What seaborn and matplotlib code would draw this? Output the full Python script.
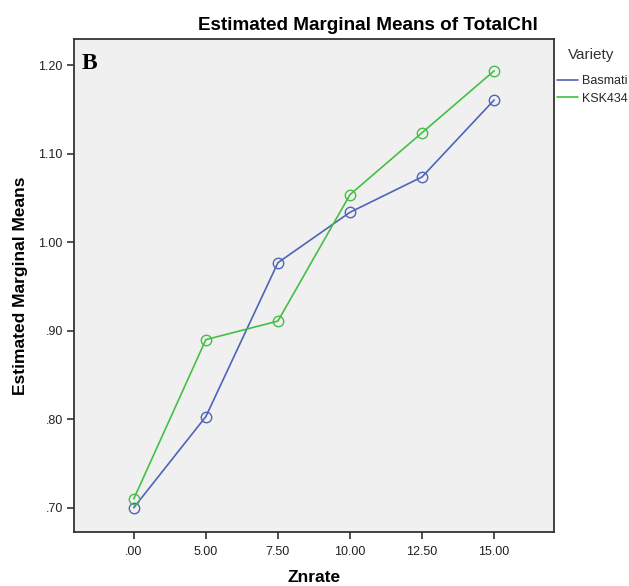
#!/usr/bin/env python3
from matplotlib import pyplot as plt
from matplotlib.lines import Line2D
import pandas
import seaborn

znrate = [".00", "5.00", "7.50", "10.00", "12.50", "15.00"]
basmati = [0.700, 0.803, 0.977, 1.034, 1.074, 1.161]
ksk434 = [0.710, 0.890, 0.911, 1.054, 1.124, 1.194]
varieties = ["Basmati", "KSK434"]
colors = ["#4f64b8", "#43c043"]

rows = []
for name, vals in zip(varieties, [basmati, ksk434]):
	for i, v in enumerate(vals):
		rows.append((i, v, name))
df = pandas.DataFrame(rows, columns=["pos", "mean", "Variety"])

seaborn.set_style("white")
plt.rcParams['font.family'] = ['Liberation Sans', 'DejaVu Sans']

fig = plt.figure(figsize=(6.29, 5.86), dpi=100)
ax = fig.add_axes([0.1176, 0.0922, 0.7631, 0.8413])
ax.set_facecolor("#f0f0f0")

seaborn.lineplot(df, x="pos", y="mean", hue="Variety", palette=colors, marker="o",
	markersize=7.5, linewidth=1.2, legend=False, sort=False, ax=ax)
for line in ax.lines:
	line.set_markerfacecolor("none")
	line.set_markeredgecolor(line.get_color())
	line.set_markeredgewidth(1.0)

ax.set_xlim(-0.83, 5.83)
ax.set_ylim(0.6725, 1.230)
ax.set_xticks(range(len(znrate)))
ax.set_xticklabels(znrate)
ax.set_yticks([0.7, 0.8, 0.9, 1.0, 1.1, 1.2])
ax.set_yticklabels([".70", ".80", ".90", "1.00", "1.10", "1.20"])
ax.tick_params(axis="both", which="major", direction="out", length=5, width=1.2,
	color="#333333", labelsize=9, labelcolor="#222222", pad=3, bottom=True, left=True)
ax.tick_params(axis="x", pad=5)
for sp in ax.spines.values():
	sp.set_color("#333333")
	sp.set_linewidth(1.3)

ax.set_xlabel("Znrate", fontsize=12.5, fontweight="bold", va="center", color="black")
ax.xaxis.set_label_coords(0.5, -(578 - 532) / 493)
ax.set_ylabel("Estimated Marginal Means", fontsize=12.5, fontweight="bold", va="center",
	color="black")
ax.yaxis.set_label_coords(-(74 - 21) / 480, 0.5)
fig.text(368 / 629, 1 - 25 / 586, "Estimated Marginal Means of TotalChl", ha="center",
	va="center", fontsize=13.6, fontweight="bold", color="black")
ax.text(0.016, 0.95, "B", transform=ax.transAxes, fontsize=17, fontweight="bold",
	family="Liberation Serif", va="center", ha="left", color="black")

# legend outside on the right, title as its own text like SPSS
fig.text(568 / 629, 1 - 55 / 586, "Variety", fontsize=11, color="#333333",
	ha="left", va="center")
handles = [Line2D([], [], color=c, linewidth=1.2) for c in colors]
fig.legend(handles, varieties, loc="upper left",
	bbox_to_anchor=(557 / 629, 1 - 75 / 586), frameon=False, fontsize=9,
	handlelength=1.7, handletextpad=0.3, labelspacing=0.45,
	borderpad=0, borderaxespad=0)

fig.savefig("out.png", dpi=100)
